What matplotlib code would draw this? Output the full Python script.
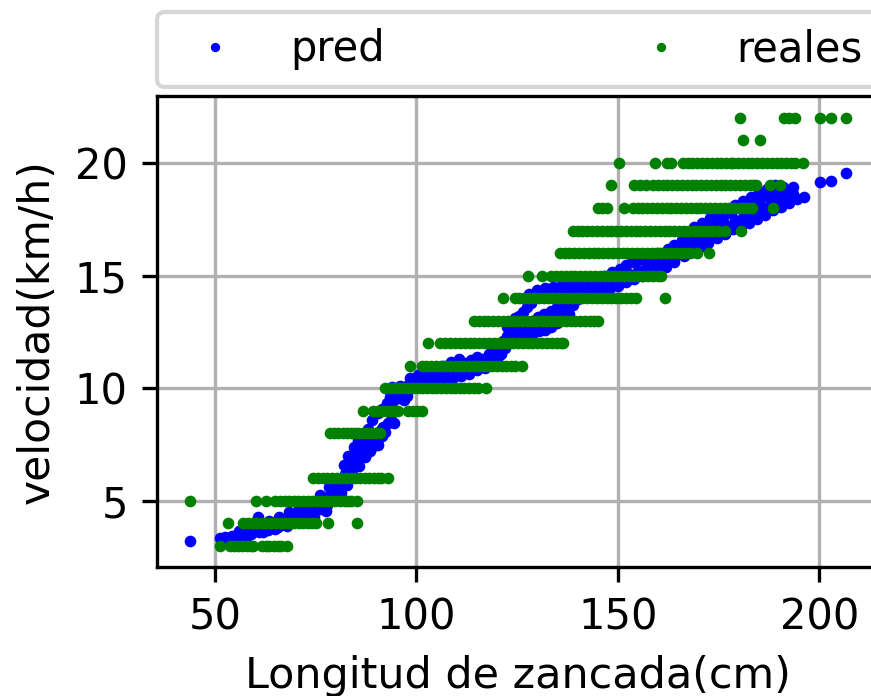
import matplotlib
matplotlib.use("Agg")
import matplotlib.pyplot as plt

# Predicted speed for each stride (stride length cm, speed km/h)
pred_x = [
    43.8, 51.2, 52.4, 53.5, 54.3, 55.4, 56.3, 57.2, 58.1, 59.0, 59.8, 60.7, 60.9, 61.7, 62.5,
    63.3, 64.1, 64.9, 65.6, 66.4, 67.2, 67.9, 68.6, 69.3, 70.0, 70.7, 71.4, 72.0, 72.7, 73.4,
    74.0, 74.7, 75.4, 76.0, 76.7, 77.3, 77.9, 78.5, 79.1, 79.6, 80.2, 80.8, 81.2, 81.8, 82.3,
    82.7, 83.3, 83.8, 84.2, 84.8, 85.3, 85.7, 86.3, 86.8, 87.2, 87.8, 88.4, 88.9, 89.5, 90.1,
    90.6, 91.2, 91.8, 92.3, 93.0, 93.8, 94.5, 92.6, 93.4, 94.3, 95.2, 96.0, 97.0, 97.8, 93.0,
    94.0, 95.0, 96.0, 97.0, 98.0, 99.0, 100.0, 101.2,
    56.0, 58.5, 61.0, 63.5, 66.0, 68.5, 71.0, 73.5, 76.0, 78.3, 80.0, 55.0, 58.0, 62.0, 65.0,
    68.0, 71.5, 74.5, 77.5,
    83.5, 84.5, 86.0, 87.5, 88.5, 89.5, 90.5, 91.5, 82.0, 83.0, 84.5, 85.5, 86.5, 88.0, 89.0,
    90.5, 91.5,
    102.0, 103.2, 104.4, 105.5, 106.6, 107.8, 108.9, 110.0, 111.2, 112.3, 113.5, 114.6, 115.7,
    116.9, 112.0, 113.5, 115.0, 116.5, 118.0, 118.6, 119.6, 120.6, 117.5, 119.0, 120.5, 121.5,
    122.5, 123.5, 124.5, 125.3, 126.2, 127.0, 127.8, 128.6, 129.4, 130.2, 131.0, 131.8, 132.6,
    133.4, 134.2, 135.0, 135.8, 136.6, 137.4, 125.5, 126.5, 127.5, 128.5, 129.5, 130.5, 131.5,
    132.5, 133.5, 134.5, 135.5, 136.5, 137.5, 138.5,
    98.5, 100.5, 102.5, 104.5, 106.5, 108.5, 110.5, 103.0, 105.0, 107.0, 109.0, 111.0, 113.0,
    115.0, 117.0, 118.5, 120.0, 121.0, 122.0, 123.0, 124.0,
    122.5, 123.5, 124.5, 126.0, 127.5, 129.0, 130.5, 132.0, 133.5, 135.0, 136.5, 138.0, 139.0,
    140.0, 128.0, 130.0, 132.0, 134.0, 136.0, 138.0, 140.0, 142.0,
    139.5, 140.6, 141.7, 142.8, 143.9, 145.0, 146.1, 147.2, 148.3, 149.4, 150.5, 151.6, 152.7,
    153.8, 154.9, 156.0, 157.1, 158.2, 159.3, 160.4, 161.5, 150.5, 152.0, 153.5, 155.0, 156.5,
    158.0, 160.0, 162.6, 163.7, 164.8, 165.9, 167.0, 168.1, 169.2, 170.3, 171.4, 172.5, 173.6,
    174.7, 175.8, 176.9, 178.0, 179.1, 180.2, 181.3, 182.4, 183.5, 184.6, 185.7, 186.8, 187.9,
    189.0, 190.1, 191.2, 192.3, 193.4, 194.4, 196.1, 166.0, 168.0, 170.0, 172.0, 174.0, 176.0,
    178.0, 180.0, 182.0, 184.0, 186.0, 188.0, 190.0, 200.3, 202.9, 206.6,
    142.0, 144.0, 146.0, 148.0, 150.0, 152.0, 154.0, 156.0, 158.0, 160.0, 162.0, 164.0, 144.5,
    146.5, 148.5, 157.5, 159.0, 161.0, 162.5, 164.0,
    166.5, 168.5, 170.5, 172.5, 174.5, 176.5, 178.5, 180.5, 182.5, 184.5, 186.5, 188.5, 190.5,
    192.5, 167.0, 169.0, 171.0, 173.0, 175.0, 177.0, 179.0, 181.0, 183.0, 185.0, 187.0, 189.0,
    191.0, 193.5,
]
pred_y = [
    3.24, 3.34, 3.38, 3.33, 3.46, 3.42, 3.52, 3.48, 3.58, 3.55, 3.66, 4.30, 3.62, 3.74, 3.82,
    3.70, 3.90, 3.97, 3.82, 4.06, 4.12, 3.95, 4.22, 4.30, 4.12, 4.40, 4.47, 4.28, 4.58, 4.65,
    4.45, 4.75, 4.85, 4.62, 4.95, 5.10, 4.80, 5.25, 5.40, 5.05, 5.55, 5.75, 5.35, 5.95, 6.20,
    5.70, 6.45, 6.70, 6.10, 6.90, 7.10, 6.55, 7.25, 7.40, 6.95, 7.55, 7.70, 7.40, 7.85, 8.00,
    7.75, 8.15, 8.30, 8.05, 8.45, 8.60, 8.45, 9.35, 9.60, 9.45, 9.70, 9.55, 9.50, 9.65, 9.95,
    10.05, 9.90, 10.10, 10.00, 10.15, 10.05, 10.25, 10.15,
    3.65, 3.75, 3.95, 4.10, 4.30, 4.50, 4.70, 4.95, 5.25, 5.60, 5.90, 3.30, 3.45, 3.60, 3.75,
    3.90, 4.10, 4.30, 4.55,
    6.00, 6.50, 6.90, 7.10, 7.20, 7.60, 7.50, 7.90, 6.60, 7.00, 7.40, 7.70, 7.90, 8.20, 8.60,
    8.90, 9.10,
    10.40, 10.30, 10.50, 10.40, 10.60, 10.50, 10.70, 10.62, 10.80, 10.75, 10.95, 10.85, 11.05,
    11.00, 11.10, 11.25, 11.40, 11.30, 11.50, 11.60, 11.62, 11.55, 11.20, 11.75, 11.90, 12.10,
    12.30, 12.50, 12.40, 12.70, 12.55, 12.85, 12.65, 13.00, 12.80, 13.15, 12.90, 13.30, 13.05,
    13.45, 13.20, 13.60, 13.40, 13.80, 13.55, 13.20, 13.40, 13.60, 13.80, 14.00, 14.10, 14.20,
    14.05, 14.25, 14.15, 14.30, 14.20, 14.35, 14.10,
    10.45, 10.60, 10.75, 10.85, 11.00, 11.15, 11.30, 10.10, 10.20, 10.35, 10.45, 10.55, 10.65,
    10.80, 10.90, 11.10, 11.30, 11.50, 11.80, 12.00, 12.10,
    12.70, 12.95, 13.10, 12.25, 12.40, 12.45, 12.55, 12.60, 12.70, 12.90, 13.10, 13.30, 13.70,
    13.95, 14.20, 14.35, 14.45, 14.50, 14.55, 14.60, 14.65, 14.75,
    14.40, 14.30, 14.45, 14.35, 14.55, 14.45, 14.65, 14.55, 14.75, 14.65, 14.90, 14.80, 15.05,
    14.95, 15.20, 15.10, 15.35, 15.25, 15.50, 15.45, 15.70, 15.30, 15.45, 15.60, 15.70, 15.80,
    15.90, 16.00, 15.85, 16.05, 15.95, 16.25, 16.15, 16.45, 16.35, 16.65, 16.55, 16.85, 16.75,
    17.05, 16.95, 17.25, 17.15, 17.45, 17.35, 17.65, 17.55, 17.85, 17.75, 18.05, 17.95, 18.25,
    18.20, 18.45, 18.40, 18.65, 18.60, 18.40, 18.50, 16.60, 16.80, 17.00, 17.15, 17.35, 17.60,
    17.80, 18.00, 18.15, 18.35, 18.55, 18.70, 18.85, 19.17, 19.22, 19.54,
    14.15, 14.25, 14.35, 14.45, 14.55, 14.70, 14.85, 15.00, 15.10, 15.20, 15.40, 15.60, 14.90,
    15.00, 15.15, 15.60, 15.75, 15.90, 16.20, 16.35,
    15.85, 16.05, 16.25, 16.45, 16.65, 16.85, 17.05, 17.20, 17.35, 17.50, 17.70, 17.90, 18.05,
    18.20, 16.95, 17.15, 17.35, 17.55, 17.75, 17.95, 18.15, 18.30, 18.50, 18.70, 18.85, 19.00,
    18.95, 18.95,
]

# Measured speeds (integer km/h) and the stride lengths recorded at each speed
real_speeds = [3, 4, 5, 6, 8, 9, 10, 11, 12, 13, 14, 15, 16, 17, 18, 19, 20, 21, 22]
real_strides = [
    [51.2, 53.7, 54.7, 55.8, 56.8, 57.9, 59.0, 59.5, 61.6, 62.7, 63.5, 64.6, 65.6, 66.4, 67.8],
    [53.3, 57.0, 58.2, 59.4, 60.5, 61.7, 62.8, 64.0, 65.1, 66.3, 67.4, 68.6, 69.7, 70.9, 72.0,
     73.2, 74.2, 75.2, 78.1, 85.2],
    [43.8, 60.3, 62.8, 64.9, 66.1, 67.3, 68.4, 69.6, 70.7, 71.9, 73.0, 74.2, 75.3, 76.5, 77.6,
     78.8, 79.9, 81.1, 82.2, 83.1, 83.9, 85.4],
    [74.4, 75.6, 76.8, 77.9, 79.1, 80.3, 81.4, 82.6, 83.7, 84.9, 86.0, 87.2, 88.3, 89.4, 90.4,
     91.2, 93.0],
    [78.5, 79.6, 80.6, 81.7, 82.8, 83.9, 84.7, 85.6, 86.7, 87.8, 88.9, 90.0, 90.9],
    [86.8, 89.3, 90.4, 91.5, 92.6, 93.6, 94.6, 95.5, 98.0, 99.1, 100.2, 101.3],
    [92.2, 93.4, 94.6, 95.7, 96.9, 98.0, 99.2, 100.4, 101.5, 102.7, 103.8, 105.0, 106.1, 107.3,
     108.5, 109.6, 110.8, 111.9, 113.1, 114.3, 115.4, 117.2],
    [98.4, 101.3, 102.5, 103.7, 104.8, 106.0, 107.2, 108.3, 109.5, 110.7, 111.8, 113.0, 114.2,
     115.3, 116.5, 117.7, 118.8, 120.0, 121.2, 122.3, 123.5, 124.6, 126.2],
    [102.9, 105.8, 107.0, 108.3, 109.6, 110.8, 112.0, 113.2, 114.4, 115.6, 116.8, 118.0, 119.2,
     120.4, 121.6, 122.8, 124.0, 125.2, 126.4, 127.6, 128.8, 130.0, 131.2, 132.4, 133.6, 134.8,
     135.8, 136.4],
    [114.3, 115.5, 116.7, 117.9, 119.1, 120.3, 121.5, 122.7, 123.9, 125.1, 126.3, 127.5, 128.7,
     129.9, 131.1, 132.3, 133.5, 134.7, 135.9, 137.1, 138.3, 139.5, 140.7, 141.9, 143.1, 144.2,
     145.0],
    [121.5, 124.4, 125.6, 126.8, 128.0, 129.2, 130.4, 131.6, 132.8, 134.0, 135.2, 136.4, 137.6,
     138.8, 140.0, 141.2, 142.4, 143.6, 144.8, 146.0, 147.2, 148.4, 149.6, 150.8, 152.0, 153.2,
     154.6, 161.8],
    [127.7, 131.1, 133.5, 134.7, 135.9, 137.1, 138.3, 139.5, 140.7, 141.9, 143.1, 144.3, 145.5,
     146.7, 147.9, 149.1, 150.3, 151.5, 152.7, 153.9, 155.1, 156.3, 157.5, 158.7, 159.9, 160.8],
    [135.6, 136.8, 138.0, 139.2, 140.4, 141.6, 142.8, 144.0, 145.2, 146.4, 147.6, 148.8, 150.0,
     151.2, 152.4, 153.6, 154.8, 156.0, 157.2, 158.4, 159.6, 160.8, 162.0, 163.2, 164.4, 165.6,
     166.8, 168.0, 169.6, 172.6],
    [138.8, 140.0, 141.2, 142.4, 143.6, 144.8, 146.0, 147.2, 148.4, 149.6, 150.8, 152.0, 153.2,
     154.4, 155.6, 156.8, 158.0, 159.2, 160.4, 161.6, 162.8, 164.0, 165.2, 166.4, 167.6, 168.8,
     170.0, 171.2, 172.4, 173.6, 174.8, 176.6, 180.5],
    [145.0, 146.2, 147.2, 151.5, 153.7, 154.9, 156.1, 157.3, 158.5, 159.7, 160.9, 162.1, 163.3,
     164.5, 165.7, 166.9, 168.1, 169.3, 170.5, 171.7, 172.9, 174.1, 175.3, 176.5, 177.7, 178.9,
     180.1, 181.1, 182.0, 183.4, 188.5],
    [148.2, 154.0, 155.5, 157.1, 158.7, 159.9, 161.1, 162.3, 163.5, 164.7, 165.9, 167.1, 168.3,
     169.5, 170.7, 171.9, 173.1, 174.3, 175.5, 176.7, 177.9, 179.1, 180.3, 181.5, 182.7, 183.6,
     184.4, 187.7, 190.2],
    [150.2, 159.3, 162.1, 163.3, 166.1, 167.3, 168.5, 169.7, 170.9, 172.1, 173.3, 174.5, 175.7,
     176.9, 178.1, 178.5, 179.8, 181.0, 182.2, 183.4, 184.6, 185.8, 187.0, 188.2, 189.4, 190.6,
     191.8, 193.0, 193.9, 195.9],
    [181.1, 185.3],
    [180.3, 191.2, 192.5, 193.9, 200.3, 202.8, 206.7],
]

fig = plt.figure(figsize=(871 / 300, 696 / 300), dpi=300)
ax = fig.add_axes([0.1803, 0.1848, 0.829, 0.6766])

ax.plot(pred_x, pred_y, "o", color="blue", ms=2.8, mew=0, label="pred")

real_x = [x for row in real_strides for x in row]
real_y = [v for v, row in zip(real_speeds, real_strides) for _ in row]
ax.plot(real_x, real_y, "o", color="green", ms=2.8, mew=0, label="reales")

ax.set_xticks([50, 100, 150, 200])
ax.set_yticks([5, 10, 15, 20])
ax.grid(True)
ax.set_xlabel("Longitud de zancada(cm)", fontsize=10.3)
ax.set_ylabel("velocidad(km/h)", fontsize=10.2)
ax.legend(bbox_to_anchor=(0.0, 1.02, 1.0, 0.102), loc="lower left", ncol=2,
          mode="expand", borderaxespad=0.0, markerscale=0.8)

fig.savefig("out.png", dpi=300)
